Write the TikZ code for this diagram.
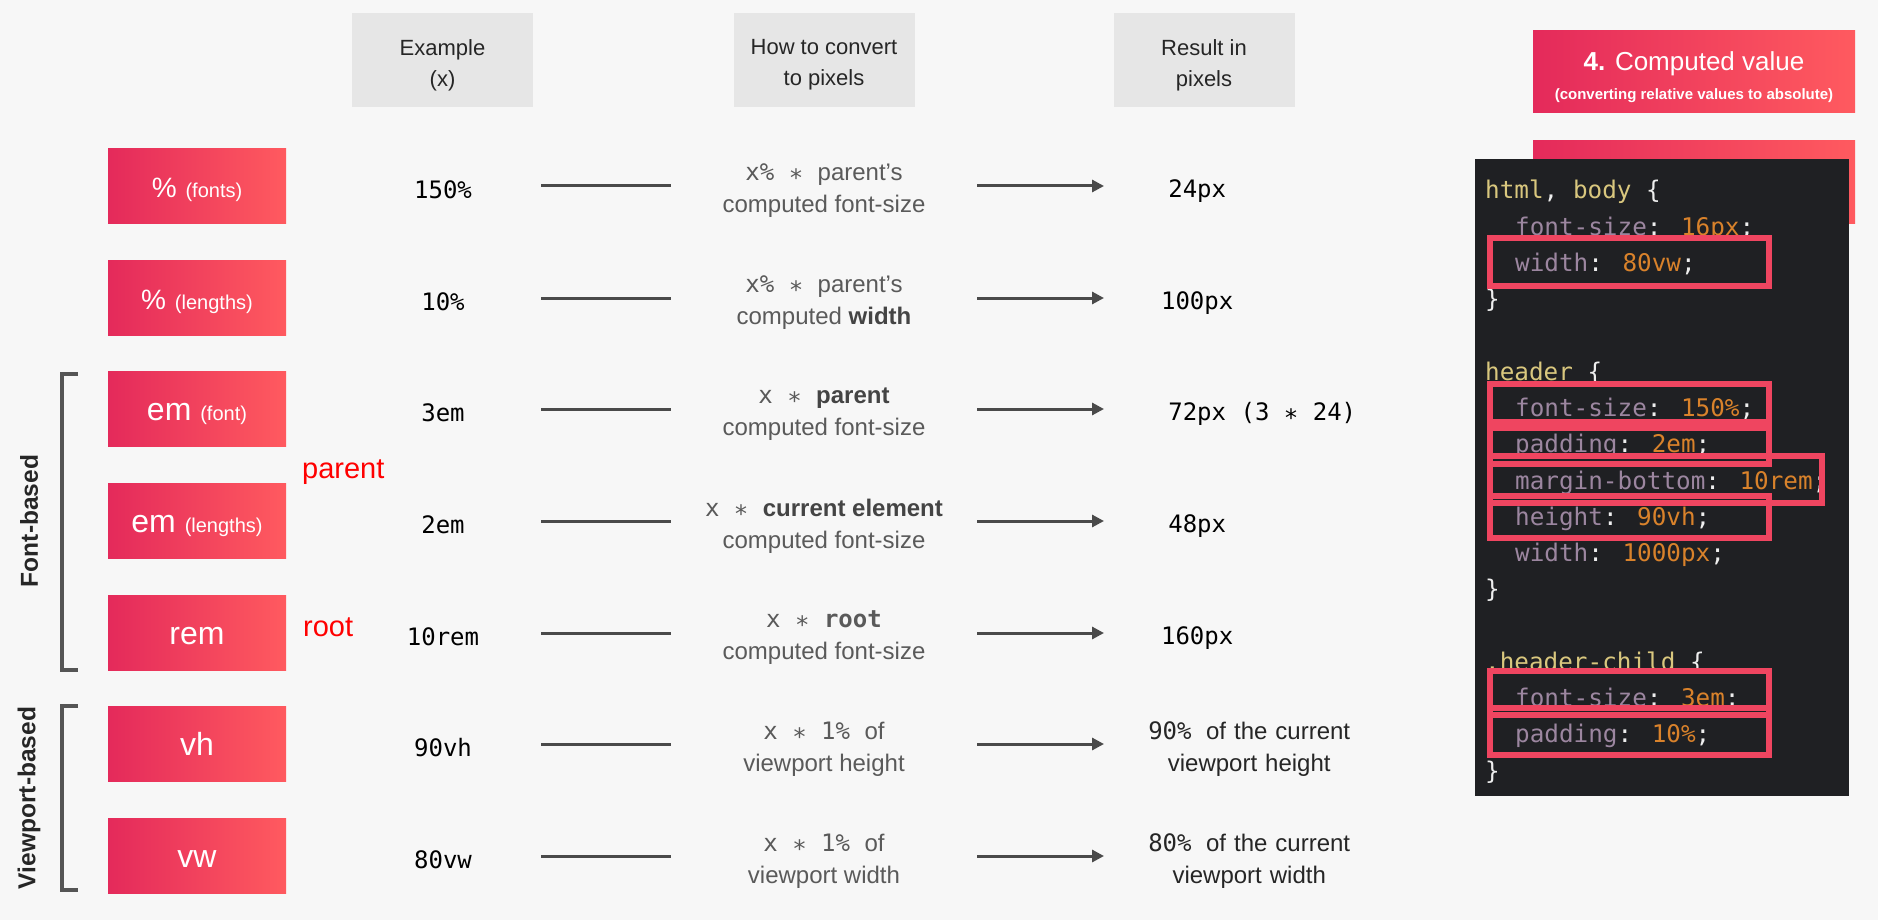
\documentclass[tikz,border=0pt]{standalone}
\usepackage{fontspec}
\setmainfont{Liberation Sans}
\newfontfamily\codefont{DejaVu Sans Mono}
\usetikzlibrary{arrows.meta}
\definecolor{bgpage}{HTML}{F7F7F7}
\definecolor{headgray}{HTML}{E6E6E6}
\definecolor{pinkL}{HTML}{E42A5B}
\definecolor{pinkR}{HTML}{FF5A5F}
\definecolor{linegray}{HTML}{4A4A4A}
\definecolor{bracegray}{HTML}{555555}
\definecolor{convgray}{HTML}{5A5A5A}
\definecolor{convdark}{HTML}{444444}
\definecolor{panel}{HTML}{1F2023}
\definecolor{codepunct}{HTML}{EEEEEE}
\definecolor{codesel}{HTML}{D9C77E}
\definecolor{codeprop}{HTML}{9C86A0}
\definecolor{codeval}{HTML}{D9822B}
\definecolor{hilite}{HTML}{EF4560}
\newcommand{\mono}{\codefont\fontsize{24}{32}\selectfont}
\newcommand{\unitsub}[1]{{\fontsize{20}{20}\selectfont #1}}
\newcommand{\lowstar}{\raisebox{-6pt}{*}}
\newcommand{\msp}{\hspace{14.45pt}}
\newcommand{\cs}[1]{\textcolor{codesel}{#1}}
\newcommand{\cp}[1]{\textcolor{codeprop}{#1}}
\newcommand{\cv}[1]{\textcolor{codeval}{#1}}
\newcommand{\dk}[1]{\textcolor{convdark}{\textbf{#1}}}
\begin{document}
\begin{tikzpicture}[x=1pt, y=-1pt,
    headbox/.style={fill=headgray, minimum width=181pt, minimum height=94pt, inner sep=0pt},
    headtext/.style={inner sep=0pt, align=center, text=black!85, font=\fontsize{22}{31}\selectfont},
    unitbox/.style={minimum width=178pt, minimum height=75pt, inner sep=0pt, left color=pinkL, right color=pinkR, text=white, text height=27pt, text depth=4pt, font=\fontsize{32}{32}\selectfont},
    titlebox/.style={minimum width=322pt, minimum height=82pt, inner sep=0pt, left color=pinkL, right color=pinkR},
    exval/.style={minimum width=196pt, inner sep=0pt, text=black, font=\mono},
    convtext/.style={minimum width=306pt, inner sep=0pt, align=center, text=convgray, font=\fontsize{24}{32}\selectfont},
    restext/.style={anchor=west, inner sep=0pt, align=center, text width=186pt, text=black, font=\mono},
    reswide/.style={restext, text width=290pt, text=black!85, font=\fontsize{24}{32}\selectfont},
    plainline/.style={line width=3pt, draw=linegray},
    arrowline/.style={plainline, -{Triangle[length=12pt, width=12pt]}},
    brace/.style={line width=3.5pt, draw=bracegray},
    sidelabel/.style={rotate=90, inner sep=0pt, text=black!85, font=\bfseries\fontsize{24.5}{24.5}\selectfont},
    redword/.style={anchor=west, inner sep=0pt, text=red, font=\fontsize{29}{29}\selectfont},
    codeline/.style={anchor=base west, inner sep=0pt, text=codepunct, font=\codefont\fontsize{24.3}{24.3}\selectfont},
    hibox/.style={draw=hilite, line width=6pt}
  ]
  \path[use as bounding box, fill=bgpage] (0,0) rectangle (1878,920);

  \node[headbox] (hexample) at (442.5,60) {};
  \node[headbox] (hconvert) at (824,60) {};
  \node[headbox] (hresult) at (1204,60) {};
  \node[headtext] (hexampletext) at ([yshift=-5pt]hexample.center) {Example\\(x)};
  \node[headtext] (hconverttext) at ([yshift=-5pt]hconvert.center) {How to convert\\to pixels};
  \node[headtext] (hresulttext) at ([yshift=-5pt]hresult.center) {Result in\\pixels};

  \foreach \i/\y in {1/186, 2/298, 3/409, 4/521, 5/633, 6/744, 7/856}
    \coordinate (row\i) at (0,\y);

  \node[unitbox] (pctfont) at (197,186) {{\fontsize{28}{28}\selectfont\%} \unitsub{(fonts)}};
  \node[unitbox] (pctlen) at (197,298) {{\fontsize{28}{28}\selectfont\%} \unitsub{(lengths)}};
  \node[unitbox] (emfont) at (197,409) {em \unitsub{(font)}};
  \node[unitbox] (emlen) at (197,521) {em \unitsub{(lengths)}};
  \node[unitbox] (rem) at (197,633) {rem};
  \node[unitbox] (vh) at (197,744) {vh};
  \node[unitbox] (vw) at (197,856) {vw};

  \node[redword] (parentword) at (302,472) {parent};
  \node[redword] (rootword) at (303,627) {root};

  \draw[brace] (78,374) -- (62,374) -- (62,670) -- (78,670);
  \draw[brace] (78,706) -- (62,706) -- (62,890) -- (78,890);
  \node[sidelabel] (fontbased) at (29,521) {Font-based};
  \node[sidelabel] (vpbased) at (29,798) {Viewport-based};

  \node[exval] (ex1) at (443,190) {150\%};
  \node[exval] (ex2) at (443,302) {10\%};
  \node[exval] (ex3) at (443,413) {3em};
  \node[exval] (ex4) at (443,525) {2em};
  \node[exval] (ex5) at (443,637) {10rem};
  \node[exval] (ex6) at (443,748) {90vh};
  \node[exval] (ex7) at (443,860) {80vw};

  \node[convtext] (cv1) at (824,191) {{\mono x\%\msp\lowstar\msp}parent’s\\computed font-size};
  \node[convtext] (cv2) at (824,303) {{\mono x\%\msp\lowstar\msp}parent’s\\computed \dk{width}};
  \node[convtext] (cv3) at (824,414) {{\mono x\msp\lowstar\msp}\dk{parent}\\computed font-size};
  \node[convtext] (cv4) at (824,526) {{\mono x\msp\lowstar\msp}\dk{current element}\\computed font-size};
  \node[convtext] (cv5) at (824,638) {{\mono x\msp\lowstar\msp\textbf{root}}\\computed font-size};
  \node[convtext] (cv6) at (824,749) {{\mono x\msp\lowstar\msp 1\%\msp}of\\viewport height};
  \node[convtext] (cv7) at (824,861) {{\mono x\msp\lowstar\msp 1\%\msp}of\\viewport width};

  \node[restext] (res1) at (1104,191) {24px};
  \node[restext] (res2) at (1104,303) {100px};
  \node[restext] (res3) at (1104,414) {72px\rlap{\msp(3\msp\lowstar\msp 24)}};
  \node[restext] (res4) at (1104,526) {48px};
  \node[restext] (res5) at (1104,638) {160px};
  \node[reswide] (res6) at (1104,749) {{\mono 90\%\msp}of the current\\viewport height};
  \node[reswide] (res7) at (1104,861) {{\mono 80\%\msp}of the current\\viewport width};

  \foreach \i in {1,...,7} {
    \draw[plainline] (row\i -| ex\i.east) -- (row\i -| cv\i.west);
    \draw[arrowline] (row\i -| cv\i.east) -- (row\i -| res\i.west);
  }

  \node[titlebox] (title) at (1694,72) {};
  \node[text=white, inner sep=0pt, font=\fontsize{26}{26}\selectfont] (titlemain) at (1694,64) {\textbf{4.} Computed value};
  \node[text=white, inner sep=0pt, font=\bfseries\fontsize{15}{15}\selectfont] (titlesub) at (1694,96) {(converting relative values to absolute)};
  \node[titlebox] (nextstep) at (1694,182) {};

  \node[fill=panel, anchor=north west, minimum width=374pt, minimum height=637pt, inner sep=0pt] (code) at (1475,159) {};
  \node[codeline] (c1) at (1485,199) {\cs{html}, \cs{body} \{};
  \node[codeline] (c2) at (1515,235.25) {\cp{font-size}: \cv{16px};};
  \node[codeline] (c3) at (1515,271.5) {\cp{width}: \cv{80vw};};
  \node[codeline] (c4) at (1485,307.75) {\}};
  \node[codeline] (c6) at (1485,380.25) {\cs{header} \{};
  \node[codeline] (c7) at (1515,416.5) {\cp{font-size}: \cv{150\%};};
  \node[codeline] (c8) at (1515,452.75) {\cp{padding}: \cv{2em};};
  \node[codeline] (c9) at (1515,489) {\cp{margin-bottom}: \cv{10rem};};
  \node[codeline] (c10) at (1515,525.25) {\cp{height}: \cv{90vh};};
  \node[codeline] (c11) at (1515,561.5) {\cp{width}: \cv{1000px};};
  \node[codeline] (c12) at (1485,597.75) {\}};
  \node[codeline] (c14) at (1485,670.25) {\cs{.header-child} \{};
  \node[codeline] (c15) at (1515,706.5) {\cp{font-size}: \cv{3em};};
  \node[codeline] (c16) at (1515,742.75) {\cp{padding}: \cv{10\%};};
  \node[codeline] (c17) at (1485,779) {\}};

  \draw[hibox] (1490,238) rectangle (1769,286);
  \draw[hibox] (1490,384) rectangle (1769,422);
  \draw[hibox] (1490,428) rectangle (1769,464);
  \draw[hibox] (1490,456) rectangle (1822,503);
  \draw[hibox] (1490,496) rectangle (1769,538);
  \draw[hibox] (1490,671) rectangle (1769,715);
  \draw[hibox] (1490,708) rectangle (1769,755);
\end{tikzpicture}
\end{document}
